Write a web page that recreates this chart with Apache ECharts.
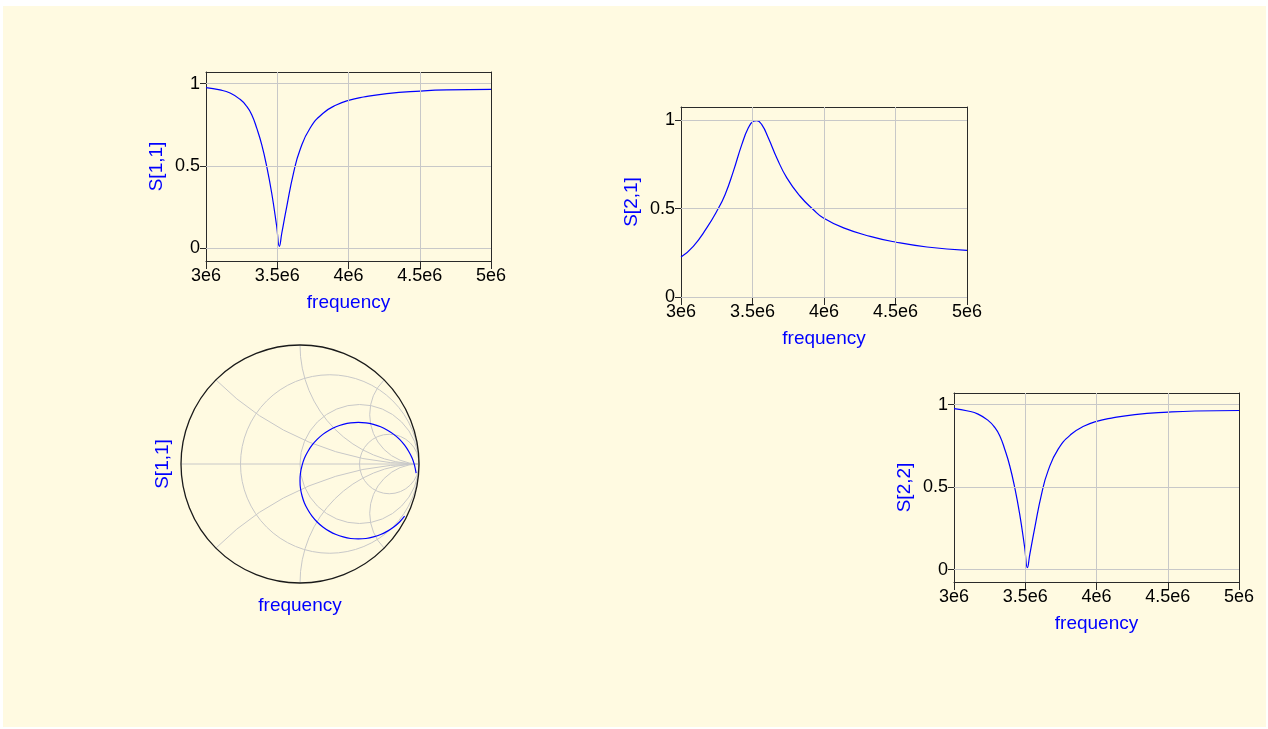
<!DOCTYPE html>
<html><head><meta charset="utf-8">
<script src="https://cdn.jsdelivr.net/npm/echarts@6/dist/echarts.min.js"></script>
<style>
html,body{margin:0;padding:0;background:#ffffff;overflow:hidden;}
#bg{position:absolute;left:3px;top:6px;width:1263px;height:721px;background:#fffae1;}
#chart{position:absolute;left:0;top:0;width:1268px;height:729px;}
</style></head><body>
<div id="bg"></div><div id="chart"></div>
<script>
// ---- tick values / labels ----
const xTickValues = [3e6, 3.5e6, 4e6, 4.5e6, 5e6];
const xTickLabels = ['3e6', '3.5e6', '4e6', '4.5e6', '5e6'];
const yTickValues = [0, 0.5, 1];
const yTickLabels = ['0', '0.5', '1'];
const xName = 'frequency';
const yNames = ['S[1,1]', 'S[2,1]', 'S[2,2]'];
const smithName = 'S[1,1]';

// ---- S[1,1] magnitude ----
const s11Freq = [3.000e6, 3.098e6, 3.169e6, 3.239e6, 3.286e6, 3.321e6, 3.356e6, 3.391e6, 3.426e6, 3.461e6, 3.496e6, 3.515e6, 3.532e6, 3.567e6, 3.614e6, 3.660e6, 3.731e6, 3.824e6, 3.918e6, 4.000e6, 4.105e6, 4.269e6, 4.504e6, 4.691e6, 5.000e6];
const s11Mag  = [0.976, 0.962, 0.943, 0.905, 0.862, 0.812, 0.730, 0.630, 0.498, 0.336, 0.134, 0.012, 0.093, 0.255, 0.457, 0.599, 0.731, 0.822, 0.872, 0.899, 0.919, 0.940, 0.955, 0.962, 0.965];

// ---- S[2,1] magnitude ----
const s21Freq = [3.000e6, 3.086e6, 3.180e6, 3.250e6, 3.308e6, 3.366e6, 3.425e6, 3.471e6, 3.506e6, 3.530e6, 3.565e6, 3.611e6, 3.670e6, 3.740e6, 3.833e6, 3.926e6, 3.996e6, 4.137e6, 4.323e6, 4.498e6, 4.720e6, 5.000e6];
const s21Mag  = [0.226, 0.287, 0.391, 0.485, 0.579, 0.711, 0.862, 0.957, 0.994, 0.998, 0.975, 0.900, 0.787, 0.674, 0.570, 0.494, 0.447, 0.391, 0.343, 0.311, 0.283, 0.264];

// ---- S[2,2] magnitude ----
const s22Freq = [3.000e6, 3.098e6, 3.169e6, 3.239e6, 3.286e6, 3.321e6, 3.356e6, 3.391e6, 3.426e6, 3.461e6, 3.496e6, 3.515e6, 3.532e6, 3.567e6, 3.614e6, 3.660e6, 3.731e6, 3.824e6, 3.918e6, 4.000e6, 4.105e6, 4.269e6, 4.504e6, 4.691e6, 5.000e6];
const s22Mag  = [0.976, 0.962, 0.943, 0.905, 0.862, 0.812, 0.730, 0.630, 0.498, 0.336, 0.134, 0.012, 0.093, 0.255, 0.457, 0.599, 0.731, 0.822, 0.872, 0.899, 0.919, 0.940, 0.955, 0.962, 0.965];

// ---- S[1,1] on Smith chart (reflection coefficient re / im) ----
const smithRe = [0.879, 0.837, 0.788, 0.735, 0.678, 0.617, 0.554, 0.490, 0.426, 0.363, 0.303, 0.245, 0.192, 0.144, 0.101, 0.066, 0.037, 0.017, 0.004, 0.000, 0.004, 0.017, 0.037, 0.066, 0.101, 0.144, 0.192, 0.245, 0.303, 0.363, 0.426, 0.490, 0.554, 0.617, 0.678, 0.735, 0.788, 0.837, 0.879, 0.914, 0.943, 0.963, 0.976];
const smithIm = [-0.438, -0.487, -0.529, -0.564, -0.593, -0.613, -0.626, -0.630, -0.626, -0.613, -0.593, -0.564, -0.529, -0.487, -0.438, -0.385, -0.328, -0.267, -0.204, -0.140, -0.076, -0.013, 0.048, 0.105, 0.158, 0.207, 0.249, 0.284, 0.313, 0.333, 0.346, 0.350, 0.346, 0.333, 0.313, 0.284, 0.249, 0.207, 0.158, 0.105, 0.048, -0.013, -0.076];

// ---- Smith grid values ----
const smithResistance = [1/3, 1, 3];
const smithReactance = [0.4142, 1, 2.4142];

// ---- styling ----
const FONT = 'Liberation Sans';
const FRAME = '#2a2a2a';
const GRID = '#c8c8c8';
const BLUE = '#0000ff';

const boxes = [
  {left: 206, top: 72, width: 285, height: 189, yMin: -0.077, yMax: 1.071},
  {left: 681, top: 107, width: 286, height: 190, yMin: 0, yMax: 1.075},
  {left: 954, top: 393, width: 285, height: 189, yMin: -0.075, yMax: 1.071}
];
const curves = [[s11Freq, s11Mag], [s21Freq, s21Mag], [s22Freq, s22Mag]];

function lbl(values, labels) {
  return function (v) {
    for (let i = 0; i < values.length; i++) {
      if (Math.abs(values[i] - v) < 1e-6 * Math.max(1, Math.abs(values[i]))) return labels[i];
    }
    return '';
  };
}

const grid = [], xAxis = [], yAxis = [], series = [];
boxes.forEach((b, k) => {
  grid.push({left: b.left, top: b.top, width: b.width, height: b.height, show: false});
  const xBase = {gridIndex: k, type: 'value', min: 3e6, max: 5e6, interval: 0.5e6, splitLine: {show: false}};
  xAxis.push(Object.assign({}, xBase, {
    position: 'bottom',
    axisLine: {show: true, onZero: false, lineStyle: {color: FRAME, width: 1}},
    axisTick: {show: true, inside: false, length: 8, lineStyle: {color: FRAME, width: 1}},
    axisLabel: {show: true, margin: 6, color: '#000', fontSize: 18, fontFamily: FONT, formatter: lbl(xTickValues, xTickLabels), showMinLabel: true, showMaxLabel: true},
    name: xName, nameLocation: 'middle', nameGap: 32,
    nameTextStyle: {color: BLUE, fontSize: 19, fontFamily: FONT}
  }));
  xAxis.push(Object.assign({}, xBase, {
    position: 'bottom',
    axisLine: {show: false, onZero: false},
    axisTick: {show: true, inside: true, length: 6, lineStyle: {color: FRAME, width: 1}},
    axisLabel: {show: false}
  }));
  xAxis.push(Object.assign({}, xBase, {
    position: 'top',
    axisLine: {show: true, onZero: false, lineStyle: {color: FRAME, width: 1}},
    axisTick: {show: false}, axisLabel: {show: false}
  }));
  const yBase = {gridIndex: k, type: 'value', min: b.yMin, max: b.yMax, splitLine: {show: false}};
  yAxis.push(Object.assign({}, yBase, {
    position: 'left',
    axisLine: {show: true, onZero: false, lineStyle: {color: FRAME, width: 1}},
    axisTick: {show: true, inside: false, length: 6, customValues: yTickValues, lineStyle: {color: FRAME, width: 1}},
    axisLabel: {show: true, margin: 6, color: '#000', fontSize: 18, fontFamily: FONT, customValues: yTickValues, formatter: lbl(yTickValues, yTickLabels)},
    name: yNames[k], nameLocation: 'middle', nameGap: 40,
    nameTextStyle: {color: BLUE, fontSize: 19, fontFamily: FONT}
  }));
  yAxis.push(Object.assign({}, yBase, {
    position: 'left',
    axisLine: {show: false, onZero: false},
    axisTick: {show: true, inside: true, length: 6, customValues: yTickValues, lineStyle: {color: FRAME, width: 1}},
    axisLabel: {show: false}
  }));
  yAxis.push(Object.assign({}, yBase, {
    position: 'right',
    axisLine: {show: true, onZero: false, lineStyle: {color: FRAME, width: 1}},
    axisTick: {show: false}, axisLabel: {show: false}
  }));
  const ml = [];
  yTickValues.forEach(v => ml.push({yAxis: v}));
  xTickValues.slice(1, -1).forEach(v => ml.push({xAxis: v}));
  series.push({
    type: 'line', xAxisIndex: 3 * k, yAxisIndex: 3 * k, data: [], z: 1, silent: true,
    markLine: {silent: true, symbol: ['none', 'none'], animation: false,
      label: {show: false}, lineStyle: {color: GRID, width: 1, type: 'solid'}, data: ml}
  });
  const [fx, fy] = curves[k];
  series.push({
    type: 'line', xAxisIndex: 3 * k, yAxisIndex: 3 * k, z: 3,
    data: fx.map((f, i) => [f, fy[i]]),
    showSymbol: false, smooth: 0.5,
    lineStyle: {color: BLUE, width: 1.2}, itemStyle: {color: BLUE}
  });
});

// ---- Smith chart ----
grid.push({left: 181, top: 345, width: 238, height: 238, show: false});
xAxis.push({gridIndex: 3, type: 'value', min: -1, max: 1,
  axisLine: {show: false}, axisTick: {show: false}, axisLabel: {show: false}, splitLine: {show: false},
  name: xName, nameLocation: 'middle', nameGap: 13, nameTextStyle: {color: BLUE, fontSize: 19, fontFamily: FONT}});
yAxis.push({gridIndex: 3, type: 'value', min: -1, max: 1,
  axisLine: {show: false}, axisTick: {show: false}, axisLabel: {show: false}, splitLine: {show: false},
  name: smithName, nameLocation: 'middle', nameGap: 9, nameTextStyle: {color: BLUE, fontSize: 19, fontFamily: FONT}});

series.push({
  type: 'custom', xAxisIndex: 9, yAxisIndex: 9, z: 1, silent: true,
  data: [[0, 0]],
  renderItem: function (params, api) {
    const children = [];
    const L = api.coord([-1, 0]), Rp = api.coord([1, 0]);
    children.push({type: 'line', shape: {x1: L[0], y1: L[1], x2: Rp[0], y2: Rp[1]}, style: {stroke: GRID, lineWidth: 1}});
    smithResistance.forEach(r => {
      const cc = api.coord([r / (1 + r), 0]);
      const rr = api.size([1 / (1 + r), 0])[0];
      children.push({type: 'circle', shape: {cx: cc[0], cy: cc[1], r: rr}, style: {stroke: GRID, fill: 'none', lineWidth: 1}});
    });
    smithReactance.forEach(x0 => {
      [1, -1].forEach(sg => {
        const x = x0 * sg;
        const c = api.coord([1, 1 / x]);
        const rad = api.size([Math.abs(1 / x), 0])[0];
        const S = api.coord([(x * x - 1) / (x * x + 1), 2 * x / (x * x + 1)]);
        let a2 = Math.atan2(S[1] - c[1], S[0] - c[0]);
        let start, end;
        if (sg > 0) { if (a2 < 0) a2 += 2 * Math.PI; start = Math.PI / 2; end = a2; }
        else { if (a2 > 0) a2 -= 2 * Math.PI; start = a2; end = -Math.PI / 2; }
        children.push({type: 'arc', shape: {cx: c[0], cy: c[1], r: rad, startAngle: start, endAngle: end, clockwise: true},
          style: {stroke: GRID, fill: 'none', lineWidth: 1}});
      });
    });
    const o = api.coord([0, 0]);
    const R = api.size([1, 0])[0];
    children.push({type: 'circle', shape: {cx: o[0], cy: o[1], r: R}, style: {stroke: '#1a1a1a', fill: 'none', lineWidth: 1.3}});
    return {type: 'group', children: children};
  }
});
series.push({
  type: 'line', xAxisIndex: 9, yAxisIndex: 9, z: 3,
  data: smithRe.map((re, i) => [re, smithIm[i]]),
  showSymbol: false, smooth: 0.3,
  lineStyle: {color: BLUE, width: 1.2}, itemStyle: {color: BLUE}
});

const chart = echarts.init(document.getElementById('chart'), null, {renderer: 'canvas'});
chart.setOption({
  backgroundColor: 'transparent',
  animation: false,
  textStyle: {fontFamily: FONT},
  grid: grid, xAxis: xAxis, yAxis: yAxis, series: series
});
</script>
</body></html>
